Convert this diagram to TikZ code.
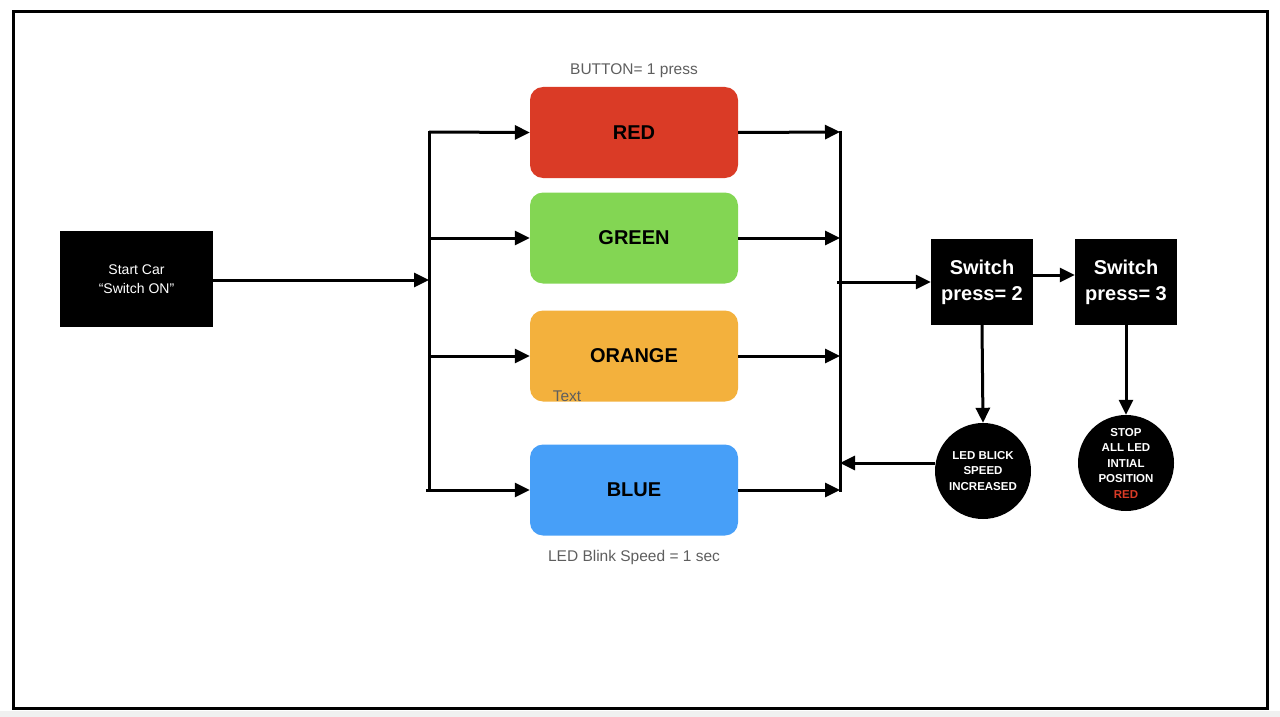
\documentclass[tikz,border=0pt]{standalone}
\usepackage{fontspec}
\setmainfont{Liberation Sans}
\usetikzlibrary{arrows.meta}
\definecolor{cred}{HTML}{DA3B26}
\definecolor{cgreen}{HTML}{83D653}
\definecolor{corange}{HTML}{F3B13D}
\definecolor{cblue}{HTML}{479FF8}
\definecolor{cgraytxt}{HTML}{5E5E5E}
\tikzset{
  ledbox/.style={rounded corners=13pt, minimum width=208pt, minimum height=91pt, inner sep=0pt,
    font=\fontsize{20}{24}\selectfont\bfseries, text=black},
  blackbox/.style={fill=black, text=white, inner sep=0pt, align=center},
  blackcirc/.style={circle, fill=black, text=white, minimum size=96pt, inner sep=0pt, align=center,
    font=\fontsize{11.5}{15.5}\selectfont\bfseries},
  arr/.style={line width=3pt, -{Triangle[length=15pt,width=14pt]}},
  bus/.style={line width=3pt},
  note/.style={text=cgraytxt, font=\fontsize{15.5}{18}\selectfont, inner sep=0pt}
}
\begin{document}
\begin{tikzpicture}[x=1pt,y=-1pt]
\useasboundingbox (0,0) rectangle (1280,717);
\fill[gray!12] (0,711) rectangle (1280,717);
\draw[line width=3pt] (13,12) rectangle (1267,708);

\node[blackbox, minimum width=153pt, minimum height=96pt, font=\fontsize{14}{19}\selectfont] (start) at (136.5,279) {Start Car\\“Switch ON”};

\node[ledbox, fill=cred] (red) at (634,132.5) {RED};
\node[ledbox, fill=cgreen] (green) at (634,238) {GREEN};
\node[ledbox, fill=corange] (orange) at (634,356) {ORANGE};
\node[ledbox, fill=cblue] (blue) at (634,490) {BLUE};

\node[note] (btn) at (634,71) {BUTTON= 1 press};
\node[note] (spd) at (634,557) {LED Blink Speed = 1 sec};
\node[note] (txt) at (567,396) {Text};

\node[blackbox, minimum width=102pt, minimum height=86pt, font=\fontsize{20}{26}\selectfont\bfseries] (s2) at (982,282) {\raisebox{-2pt}{Switch}\\\raisebox{-2pt}{press= 2}};
\node[blackbox, minimum width=102pt, minimum height=86pt, font=\fontsize{20}{26}\selectfont\bfseries] (s3) at (1126,282) {\raisebox{-2pt}{Switch}\\\raisebox{-2pt}{press= 3}};

\node[blackcirc] (led) at (983,471) {LED BLICK\\SPEED\\INCREASED};
\node[blackcirc] (stop) at (1126,463) {STOP\\ALL LED\\INTIAL\\POSITION\\\textcolor{cred}{RED}};

% left bus
\coordinate (lbT) at (429,132);
\coordinate (lb2) at (429,238);
\coordinate (lbM) at (429,280);
\coordinate (lb3) at (429,356);
\coordinate (lbB) at (429,490);
\coordinate (lbB0) at (426,490);
\draw[bus] ([yshift=1.5pt]lbT) -- ([yshift=-1.5pt]lbB);
\draw[arr] (start.east |- lbM) -- (lbM);
\draw[arr] (lbT) -- (red.west);
\draw[arr] (lb2) -- (green.west);
\draw[arr] (lb3) -- (orange.west);
\draw[arr] (lbB0) -- (blue.west);

% right bus
\coordinate (rbT) at (840,132);
\coordinate (rb2) at (840,238);
\coordinate (rbM) at (837,282);
\coordinate (rb3) at (840,356);
\coordinate (rbL) at (840,463);
\coordinate (rbB) at (840,490);
\draw[bus] ([yshift=1.5pt]rbT) -- ([yshift=-1.5pt]rbB);
\draw[arr] (red.east) -- (rbT);
\draw[arr] (green.east) -- (rb2);
\draw[arr] (orange.east) -- (rb3);
\draw[arr] (blue.east) -- (rbB);
\draw[arr] (rbM) -- (s2.west);

\draw[arr] ([yshift=7pt]s2.east) -- ([yshift=7pt]s3.west);
\draw[arr] (s2.south) -- (led.north);
\draw[arr] (s3.south) -- (stop.north);
\draw[arr] ([yshift=8pt]led.west) -- (rbL);
\end{tikzpicture}
\end{document}
